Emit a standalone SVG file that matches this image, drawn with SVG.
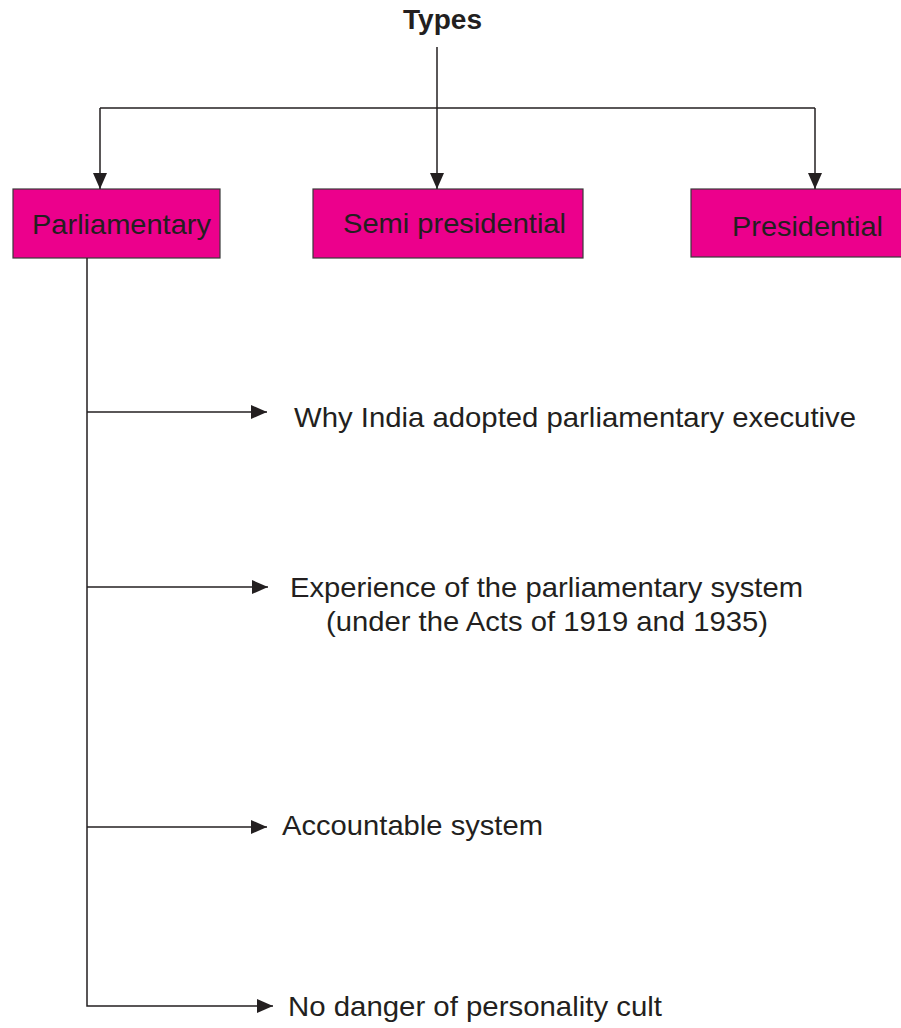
<svg xmlns="http://www.w3.org/2000/svg" width="901" height="1028" viewBox="0 0 901 1028">
  <defs>
    <marker id="arr" markerUnits="userSpaceOnUse" markerWidth="16" markerHeight="14" refX="16" refY="7" orient="auto">
      <path d="M0,0 L16,7 L0,14 z" fill="#231F20"/>
    </marker>
    <style>
      .t { font-family: "Liberation Sans", Arial, sans-serif; font-size: 28.5px; fill: #231F20; }
      .b { font-family: "Liberation Sans", Arial, sans-serif; font-size: 27px; font-weight: bold; fill: #231F20; }
      .box { fill: #EC008C; stroke: #3a3a3a; stroke-width: 1.2; }
      .c { fill: none; stroke: #231F20; stroke-width: 1.5; }
    </style>
  </defs>
  <rect width="901" height="1028" fill="#ffffff"/>

  <g id="types">
    <text class="b" x="403" y="29" textLength="79" lengthAdjust="spacingAndGlyphs">Types</text>
  </g>

  <g id="parliamentary">
    <rect class="box" x="13" y="189" width="207" height="69"/>
    <text class="t" x="32" y="234" textLength="179" lengthAdjust="spacingAndGlyphs">Parliamentary</text>
  </g>
  <g id="semi-presidential">
    <rect class="box" x="313" y="189" width="270" height="69"/>
    <text class="t" x="343" y="233" textLength="223" lengthAdjust="spacingAndGlyphs">Semi presidential</text>
  </g>
  <g id="presidential">
    <rect class="box" x="691" y="189" width="215" height="68"/>
    <text class="t" x="732" y="236" textLength="151" lengthAdjust="spacingAndGlyphs">Presidential</text>
  </g>

  <g id="why-india">
    <text class="t" x="294" y="427" textLength="562" lengthAdjust="spacingAndGlyphs">Why India adopted parliamentary executive</text>
  </g>
  <g id="experience">
    <text class="t" x="290" y="597" textLength="513" lengthAdjust="spacingAndGlyphs">Experience of the parliamentary system</text>
    <text class="t" x="326" y="631" textLength="442" lengthAdjust="spacingAndGlyphs">(under the Acts of 1919 and 1935)</text>
  </g>
  <g id="accountable">
    <text class="t" x="282" y="835" textLength="261" lengthAdjust="spacingAndGlyphs">Accountable system</text>
  </g>
  <g id="no-danger">
    <text class="t" x="288" y="1016" textLength="374" lengthAdjust="spacingAndGlyphs">No danger of personality cult</text>
  </g>

  <g id="connectors">
    <path class="c" d="M437,47 V189" marker-end="url(#arr)"/>
    <path class="c" d="M100,108 H815"/>
    <path class="c" d="M100,108 V189" marker-end="url(#arr)"/>
    <path class="c" d="M815,108 V189" marker-end="url(#arr)"/>
    <path class="c" d="M87,258 V1006 H273" marker-end="url(#arr)"/>
    <path class="c" d="M87,412 H267" marker-end="url(#arr)"/>
    <path class="c" d="M87,587 H268" marker-end="url(#arr)"/>
    <path class="c" d="M87,827 H267" marker-end="url(#arr)"/>
  </g>
</svg>
